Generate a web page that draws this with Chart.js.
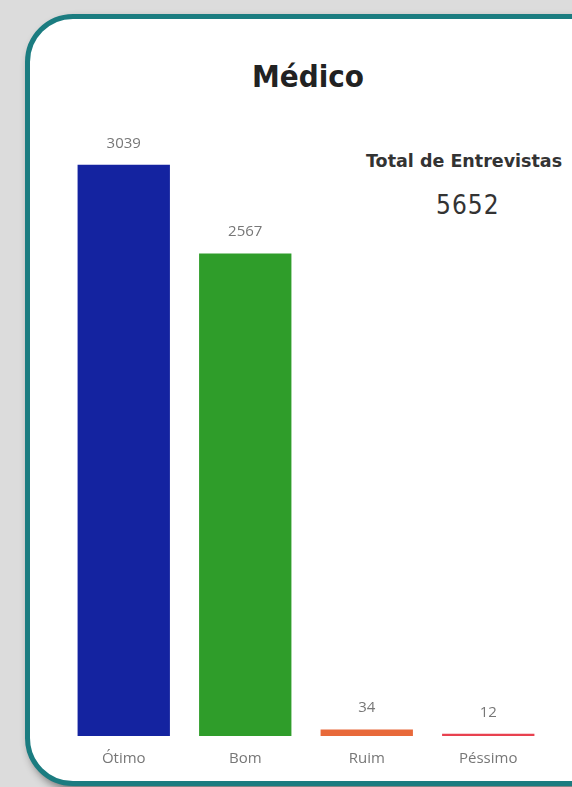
<!DOCTYPE html>
<html>
<head>
<meta charset="utf-8">
<script src="https://cdn.jsdelivr.net/npm/chart.js@4.4.1/dist/chart.umd.min.js"></script>
<style>
  html, body { margin: 0; padding: 0; }
  body { width: 572px; height: 787px; background: #dcdcdc; position: relative; overflow: hidden; }
  .card {
    position: absolute; left: 25px; top: 14px; width: 600px; height: 762px;
    background: #fff; border: 5px solid #1b7c80; border-radius: 48px;
    box-shadow: 4px 5px 8px rgba(0,0,0,0.45);
  }
  .title {
    position: absolute; left: 0; top: 58px; width: 616px; text-align: center;
    font: bold 31px "DejaVu Sans Condensed", "DejaVu Sans", sans-serif; color: #222;
  }
  .kpi-label {
    position: absolute; left: 366px; top: 151px; white-space: nowrap;
    font: bold 17.5px "DejaVu Sans", sans-serif; color: #333;
  }
  .kpi-value {
    position: absolute; left: 436px; top: 190px;
    font: 26px "DejaVu Sans Condensed", "DejaVu Sans", sans-serif; color: #333; letter-spacing: 1px;
  }
  canvas { position: absolute; left: 0; top: 0; }
</style>
</head>
<body>
<div class="card"></div>
<div class="title">Médico</div>
<div class="kpi-label">Total de Entrevistas</div>
<div class="kpi-value">5652</div>
<canvas id="chart" width="572" height="787"></canvas>
<script>
const categories = ['Ótimo', 'Bom', 'Ruim', 'Péssimo']
const values = [3039, 2567, 34, 12]
const barColors = ['#1423a0', '#2f9d2a', '#e8693a', '#e8414f']

// rótulos de valor acima das barras
const valueLabels = {
  id: 'valueLabels',
  afterDatasetsDraw(chart) {
    const ctx = chart.ctx
    const meta = chart.getDatasetMeta(0)
    ctx.save()
    ctx.font = '15px "Open Sans", sans-serif'
    ctx.fillStyle = '#777'
    ctx.textAlign = 'center'
    ctx.textBaseline = 'bottom'
    meta.data.forEach((bar, i) => {
      ctx.fillText(values[i], bar.x, bar.y - 14)
    })
    ctx.restore()
  }
}

const ctx = document.getElementById('chart').getContext('2d')
new Chart(ctx, {
  type: 'bar',
  data: {
    labels: categories,
    datasets: [{
      data: values,
      backgroundColor: barColors,
      barPercentage: 0.76,
      categoryPercentage: 1.0
    }]
  },
  options: {
    responsive: false,
    animation: false,
    layout: { padding: { left: 63, right: 23, top: 97, bottom: 13 } },
    plugins: {
      legend: { display: false },
      tooltip: { enabled: false }
    },
    scales: {
      y: { display: false, min: 0, max: 3400 },
      x: {
        grid: { display: false },
        border: { display: false },
        ticks: {
          color: '#777',
          padding: 6,
          font: { family: '"Open Sans", sans-serif', size: 15 }
        }
      }
    }
  },
  plugins: [valueLabels]
})
</script>
</body>
</html>
